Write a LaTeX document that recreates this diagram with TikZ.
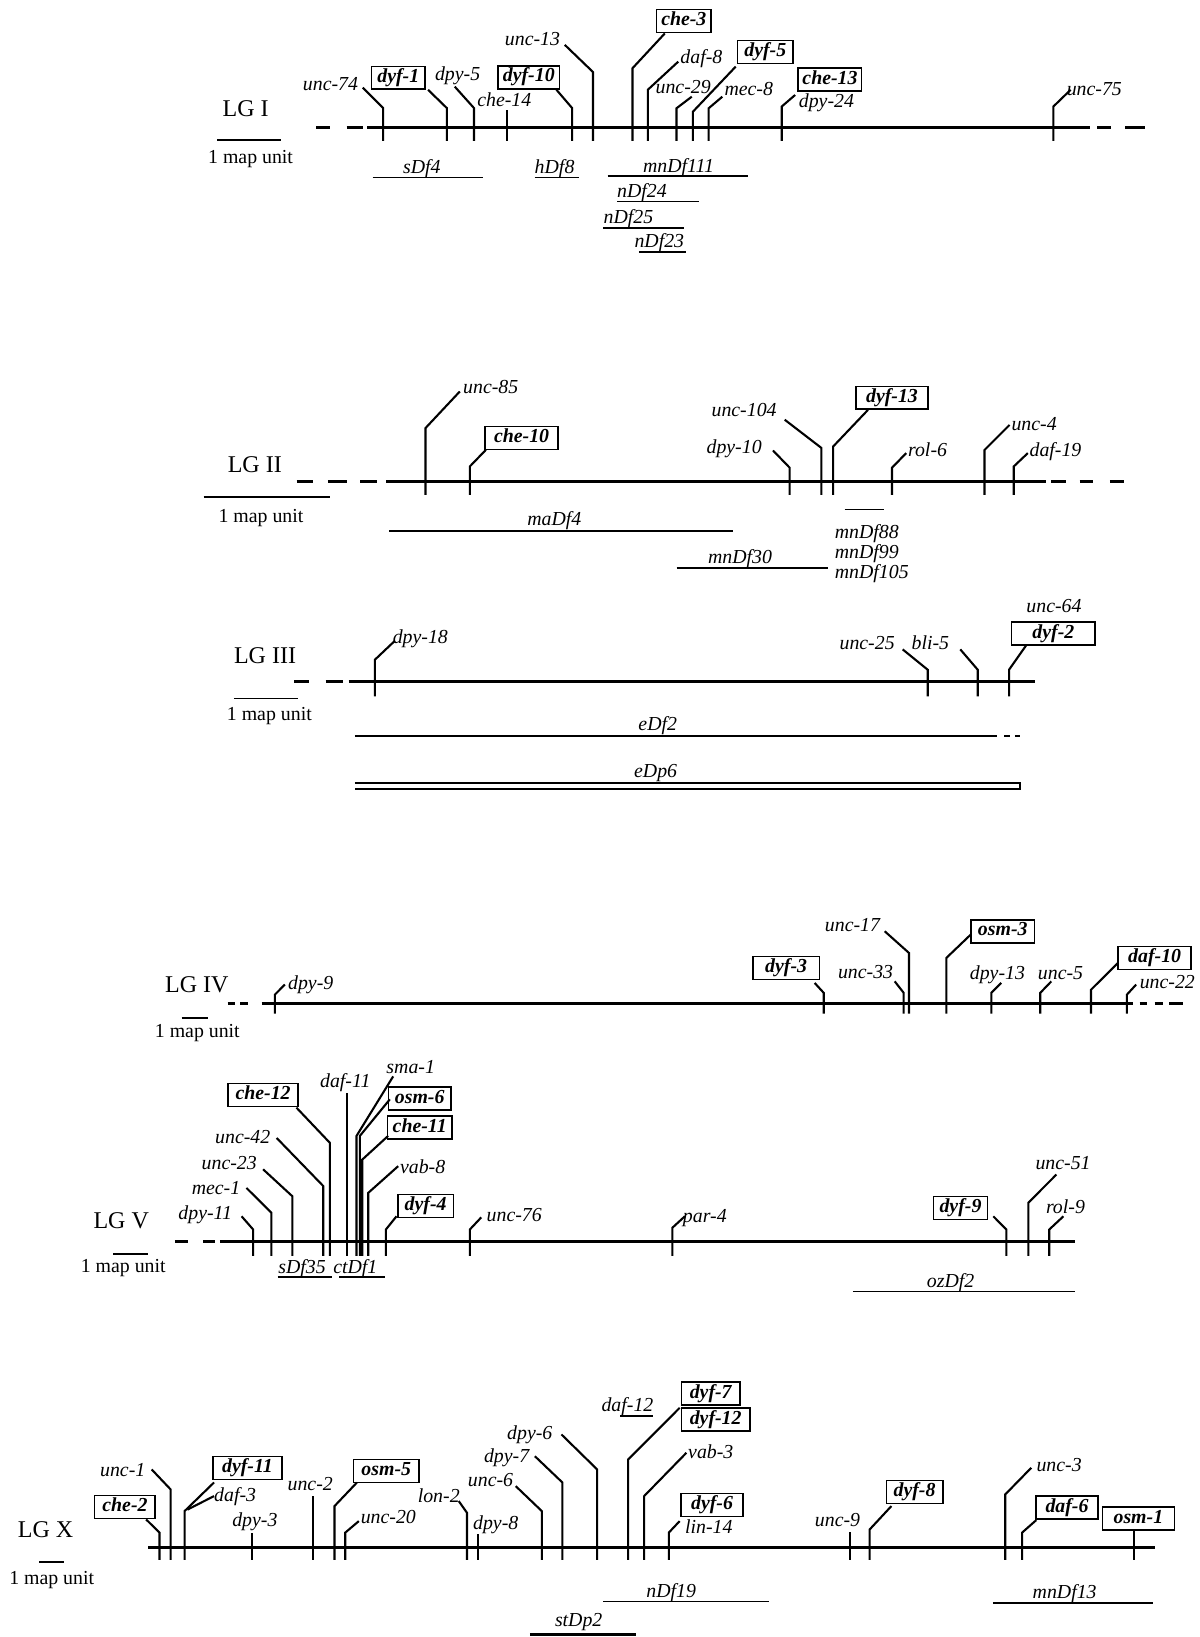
\documentclass[tikz,border=0pt]{standalone}
\usepackage{fontspec}
\setmainfont{Liberation Serif}
\newcommand\gtick[4]{\draw[tick] (#1,\lb) -- (#1,#2) -- (#3,#4);}
\newcommand\gvert[2]{\draw[tick] (#1,\lb) -- (#1,#2);}
\def\lb{0}
\tikzset{
 lab/.style={font=\fontsize{19}{21}\selectfont\itshape, inner sep=0pt, anchor=base west},
 bx/.style={draw, line width=1.5pt, font=\fontsize{19}{21}\selectfont\bfseries\itshape, inner xsep=4pt, inner ysep=2.5pt, text height=13pt, text depth=4pt},
 lg/.style={font=\fontsize{23}{25}\selectfont, inner sep=0pt, anchor=base west},
 mu/.style={font=\fontsize{19}{21}\selectfont, inner sep=0pt, anchor=base},
 chrom/.style={line width=2.6pt},
 tick/.style={line width=2pt},
 df/.style={line width=1.8pt},
 bar/.style={line width=1.8pt},
}
\begin{document}
\begin{tikzpicture}[x=1pt,y=-1pt]
\useasboundingbox (0,0) rectangle (1149,1568);
\fill[white] (0,0) rectangle (1149,1568);
% ================= LG I =================
\node[lg] (lg1) at (213,112) {LG I};
\draw[bar] (208,134) -- (269,134);
\node[mu] (mu1) at (240,157) {1 map unit};
\draw[chrom] (303,122) -- (316,122) (332,122) -- (348,122) (352,122) -- (1044,122) (1051,122) -- (1064,122) (1078,122) -- (1097,122);
\def\lb{135}
\node[lab] (unc74) at (290,87) {unc-74};
\node[bx, minimum width=51pt] (dyf1) at (381.5,74.5) {dyf-1};
\node[lab] (dpy5) at (416.5,77) {dpy-5};
\node[lab] (che14) at (457,102) {che-14};
\node[bx, minimum width=59pt] (dyf10) at (506.5,74) {dyf-10};
\node[lab] (unc13) at (483.5,44) {unc-13};
\node[bx, minimum width=52pt] (che3) at (655,20) {che-3};
\node[lab] (daf8) at (651.6,61) {daf-8};
\node[lab] (unc29) at (627.8,90) {unc-29};
\node[bx, minimum width=53pt] (dyf5) at (733,50) {dyf-5};
\node[lab] (mec8) at (693.8,91) {mec-8};
\node[bx, minimum width=60pt] (che13) at (795,76) {che-13};
\node[lab] (dpy24) at (765,103) {dpy-24};
\node[lab] (unc75) at (1021.6,91) {unc-75};
\gtick{367}{103.5}{347.5}{84}
\gtick{428}{103.5}{410}{86}
\gtick{454}{103.5}{435.6}{83}
\gvert{486}{105}
\gtick{548}{103.5}{533}{86}
\gtick{568}{69}{541}{43}
\gtick{605.8}{65.4}{636.8}{32}
\gtick{620.5}{86}{649.7}{59}
\gtick{648}{103.7}{662.6}{92.6}
\gtick{663.7}{107}{704.7}{63.8}
\gtick{678.8}{103.7}{691.9}{92.6}
\gtick{748.8}{102}{761.6}{91}
\gtick{1009}{102}{1025.5}{86}
\node[lab, anchor=base] (sdf4) at (404,166) {sDf4};
\draw[df] (357,170) -- (462.6,170);
\node[lab] (hdf8) at (512,166) {hDf8};
\draw[df] (512,170) -- (555,170);
\node[lab, anchor=base] (mndf111) at (650,165) {mnDf111};
\draw[df] (582,169) -- (716,169);
\node[lab] (ndf24) at (591,189) {nDf24};
\draw[df] (591,193) -- (670,193);
\node[lab] (ndf25) at (578,214) {nDf25};
\draw[df] (578,218) -- (655,218);
\node[lab] (ndf23) at (607.6,237) {nDf23};
\draw[df] (612,241) -- (657,241);
% ================= LG II =================
\node[lg] (lg2) at (218,453) {LG II};
\draw[bar] (195,476) -- (316,476);
\node[mu] (mu2) at (250,500) {1 map unit};
\draw[chrom] (284,461) -- (300,461) (314,461) -- (332,461) (345,461) -- (361,461) (370,461) -- (1002,461) (1007,461) -- (1021,461) (1034,461) -- (1047,461) (1063,461) -- (1077,461);
\def\lb{474}
\node[lab] (unc85) at (443.5,377) {unc-85};
\node[bx, minimum width=70pt] (che10) at (499.6,419.7) {che-10};
\node[lab] (dpy10) at (676.6,434) {dpy-10};
\node[lab] (unc104) at (681.4,399) {unc-104};
\node[bx, minimum width=69pt] (dyf13) at (854.4,381) {dyf-13};
\node[lab] (rol6) at (869.6,437) {rol-6};
\node[lab] (unc4) at (968.7,412) {unc-4};
\node[lab] (daf19) at (986,437) {daf-19};
\gtick{407.6}{410}{440.4}{375}
\gtick{450}{446.8}{465.4}{430.9}
\gtick{756.4}{448}{740.4}{431.5}
\gtick{786.7}{429}{751.6}{402}
\gtick{798}{427.7}{831.4}{392.6}
\gtick{854.4}{448}{868}{434}
\gtick{943}{431}{967}{407}
\gtick{971}{446.8}{984.5}{434}
\node[lab, anchor=base] (madf4) at (531,503) {maDf4};
\draw[df] (372.6,509) -- (702,509);
\draw[df] (809,488) -- (847,488);
\node[lab] (mndf88) at (799.5,515.5) {mnDf88};
\node[lab] (mndf99) at (799.5,535) {mnDf99};
\node[lab] (mndf105) at (799.5,554) {mnDf105};
\node[lab] (mndf30) at (678,540) {mnDf30};
\draw[df] (648,544) -- (793,544);
% ================= LG III =================
\node[lg] (lg3) at (224,636) {LG III};
\draw[bar] (224,669) -- (285,669);
\node[mu] (mu3) at (258,690) {1 map unit};
\draw[chrom] (282,653) -- (296,653) (312,653) -- (329,653) (334,653) -- (991,653);
\def\lb{667}
\node[lab] (dpy18) at (376,616) {dpy-18};
\node[lab] (unc25) at (804,622) {unc-25};
\node[lab] (bli5) at (873,622) {bli-5};
\node[lab] (unc64) at (983,587) {unc-64};
\node[bx, minimum width=80pt] (dyf2) at (1009,607) {dyf-2};
\gtick{359}{632}{378}{614}
\gtick{888.6}{641.5}{864.6}{622}
\gtick{936.5}{641.5}{919.8}{622}
\gtick{966.5}{641.5}{983}{618}
\node[lab, anchor=base] (edf2) at (630,700) {eDf2};
\draw[df] (340,705) -- (955,705) (962,705) -- (967,705) (972,705) -- (977,705);
\node[lab, anchor=base] (edp6) at (628,745) {eDp6};
\draw[df] (340,750) -- (977,750) -- (977,756) -- (340,756);
% ================= LG IV =================
\node[lg] (lg4) at (158,951) {LG IV};
\draw[bar] (174,975) -- (199.5,975);
\node[mu] (mu4) at (189,994) {1 map unit};
\draw[chrom] (218,961) -- (225,961) (230,961) -- (237.5,961) (250.5,961) -- (1085,961) (1091.5,961) -- (1099,961) (1106,961) -- (1113.6,961) (1120,961) -- (1133,961);
\def\lb{971}
\node[lab] (dpy9) at (275.8,948) {dpy-9};
\node[bx, minimum width=64pt] (dyf3) at (753,927) {dyf-3};
\node[lab] (unc33) at (802.5,937) {unc-33};
\node[lab] (unc17) at (790,892) {unc-17};
\node[bx, minimum width=61pt] (osm3) at (960.5,892) {osm-3};
\node[lab] (dpy13) at (928.8,938.6) {dpy-13};
\node[lab] (unc5) at (994,938) {unc-5};
\node[bx, minimum width=70pt] (daf10) at (1106,917.5) {daf-10};
\node[lab] (unc22) at (1091.5,946.5) {unc-22};
\gtick{263.3}{952.7}{272.9}{943}
\gtick{789}{951}{780.3}{941.5}
\gtick{865.6}{951}{857}{940}
\gtick{870.7}{912.8}{847.4}{892}
\gtick{906.4}{917.6}{930}{895}
\gtick{949.5}{951}{959}{941.5}
\gtick{996.4}{951}{1007}{940}
\gtick{1045}{948}{1070.8}{922.4}
\gtick{1079.4}{952.7}{1088.3}{943}
% ================= LG V =================
\node[lg] (lg5) at (89.4,1177) {LG V};
\draw[bar] (108.5,1201) -- (142,1201);
\node[mu] (mu5) at (118,1219) {1 map unit};
\draw[chrom] (167.6,1189) -- (180,1189) (194.7,1189) -- (206,1189) (210.6,1189) -- (1030,1189);
\def\lb{1203}
\node[lab] (dpy11) at (170.7,1168) {dpy-11};
\node[lab] (mec1) at (183.5,1144) {mec-1};
\node[lab] (unc23) at (193,1120.5) {unc-23};
\node[lab] (unc42) at (205.9,1095) {unc-42};
\node[bx, minimum width=67pt] (che12) at (252,1049) {che-12};
\node[lab] (daf11) at (306.4,1042) {daf-11};
\node[lab] (sma1) at (370,1028) {sma-1};
\node[bx, minimum width=60pt] (osm6) at (402,1052) {osm-6};
\node[bx, minimum width=62pt] (che11) at (402,1080) {che-11};
\node[lab] (vab8) at (383,1123.7) {vab-8};
\node[bx, minimum width=53pt] (dyf4) at (407.7,1155) {dyf-4};
\node[lab] (unc76) at (466,1169.7) {unc-76};
\node[lab] (par4) at (654,1171) {par-4};
\node[bx, minimum width=52pt] (dyf9) at (920,1157) {dyf-9};
\node[lab] (unc51) at (991.7,1120.5) {unc-51};
\node[lab] (rol9) at (1001.7,1162) {rol-9};
\gtick{242.5}{1177.7}{231.4}{1165}
\gtick{260}{1161.7}{236}{1137.8}
\gtick{280}{1145.8}{252}{1120}
\gtick{309.6}{1136}{265}{1090}
\gtick{316}{1094.7}{284}{1061}
\gvert{332}{1046.8}
\gtick{341.5}{1088}{376.6}{1031}
\gtick{344.7}{1088}{373.4}{1053}
\gtick{347}{1110.7}{371.8}{1088}
\gtick{352.7}{1142.6}{381.4}{1117}
\gtick{369.6}{1177.7}{379.8}{1165}
\gtick{450}{1177.7}{461}{1166}
\gtick{644}{1176}{656}{1165}
\gtick{964}{1177.7}{951.4}{1165}
\gtick{985}{1152}{1011.9}{1125}
\gtick{1005}{1177.7}{1018.6}{1165}
\node[lab] (sdf35) at (266.5,1219.5) {sDf35};
\draw[df] (266,1223) -- (318,1223);
\node[lab] (ctdf1) at (319,1219.5) {ctDf1};
\draw[df] (325,1223) -- (369,1223);
\node[lab] (ozdf2) at (887.6,1233) {ozDf2};
\draw[df] (817,1237) -- (1030,1237);
% ================= LG X =================
\node[lg] (lgx) at (17,1473) {LG X};
\draw[bar] (37.6,1496) -- (61.6,1496);
\node[mu] (mux) at (49.5,1518) {1 map unit};
\draw[chrom] (142,1482.5) -- (1106,1482.5);
\def\lb{1494}
\node[bx, minimum width=58pt] (che2) at (119.7,1443.4) {che-2};
\node[lab] (unc1) at (95.7,1414) {unc-1};
\node[bx, minimum width=66pt] (dyf11) at (237,1406) {dyf-11};
\node[lab] (daf3) at (205,1438) {daf-3};
\node[lab] (dpy3) at (222.3,1462) {dpy-3};
\node[lab] (unc2) at (275.3,1428) {unc-2};
\node[bx, minimum width=63pt] (osm5) at (370,1409) {osm-5};
\node[lab] (unc20) at (345.4,1459) {unc-20};
\node[lab] (lon2) at (400,1439.6) {lon-2};
\node[lab] (dpy8) at (453,1465) {dpy-8};
\node[lab] (unc6) at (448,1423.7) {unc-6};
\node[lab] (dpy7) at (463.4,1401) {dpy-7};
\node[lab] (dpy6) at (485.6,1379) {dpy-6};
\node[lab] (daf12) at (576,1352) {daf-12};
\draw[df] (594,1356.6) -- (625,1356.6);
\node[bx, minimum width=56pt, anchor=west] (dyf7) at (652,1335) {dyf-7};
\node[bx, minimum width=65.5pt, anchor=west] (dyf12) at (652,1359.5) {dyf-12};
\node[lab] (vab3) at (659,1396.6) {vab-3};
\node[bx, minimum width=59pt] (dyf6) at (682,1441.7) {dyf-6};
\node[lab] (lin14) at (656,1468.4) {lin-14};
\node[lab] (unc9) at (780.4,1462) {unc-9};
\node[bx, minimum width=54pt] (dyf8) at (876,1429) {dyf-8};
\node[lab] (unc3) at (992.6,1409.3) {unc-3};
\node[bx, minimum width=59pt] (daf6) at (1022,1444) {daf-6};
\node[bx, minimum width=69pt] (osm1) at (1090.4,1454.5) {osm-1};
\gtick{152.8}{1468}{140}{1455.4}
\gtick{163.4}{1426.6}{145.3}{1407.5}
\gtick{176.8}{1447.4}{205}{1420}
\draw[tick] (179.5,1446) -- (205,1433);
\gvert{241}{1468}
\gvert{300}{1433}
\gtick{320.4}{1442.6}{341.9}{1420}
\gtick{330.7}{1468}{343.7}{1457}
\gtick{447.3}{1449}{439.4}{1437.8}
\gvert{458}{1469.7}
\gtick{519}{1447.4}{494}{1423.5}
\gtick{538.7}{1420}{512.3}{1394.8}
\gtick{572}{1407.5}{537.8}{1374}
\gtick{601.6}{1398}{651}{1348.5}
\gtick{617}{1433}{657.5}{1391.5}
\gtick{640.6}{1468}{651}{1457}
\gvert{814.5}{1467}
\gtick{833}{1465}{853.8}{1442.6}
\gtick{962.9}{1431.4}{987.8}{1405.9}
\gtick{979}{1468}{992.6}{1456}
\draw[tick] (1085.8,\lb) -- (osm1.south -| 1085.8,0);
\node[lab] (ndf19) at (619,1530) {nDf19};
\draw[df] (578,1534) -- (737,1534);
\node[lab] (mndf13) at (989,1531) {mnDf13};
\draw[df] (951,1535) -- (1104,1535);
\node[lab] (stdp2) at (531.4,1558) {stDp2};
\draw[line width=3pt] (507.5,1566) -- (609.6,1566);
\end{tikzpicture}
\end{document}
